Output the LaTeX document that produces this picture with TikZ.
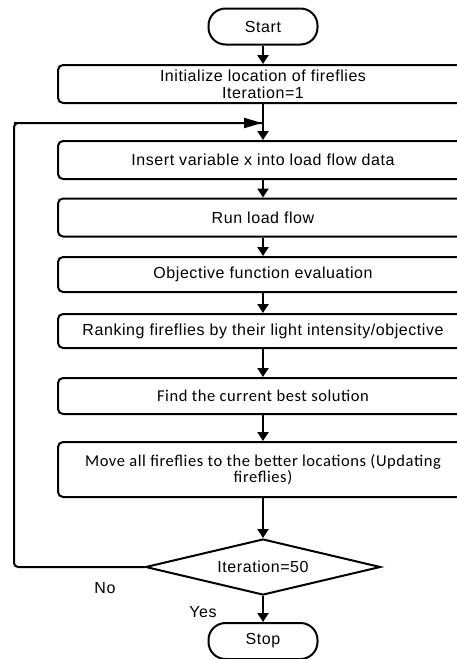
\documentclass[tikz,border=0pt]{standalone}
\usepackage{fontspec}
\setmainfont[LetterSpace=3.5]{Liberation Sans}
\newfontfamily\calib[LetterSpace=3.5]{Carlito}
\usetikzlibrary{arrows.meta,shapes.geometric}
\tikzset{
  procbox/.style={draw, line width=2pt, rounded corners=5pt, minimum width=410pt, inner sep=0pt, align=center, font=\fontsize{16}{17}\selectfont},
  termbox/.style={draw, line width=2pt, rounded corners=17pt, minimum width=109pt, minimum height=36pt, inner sep=0pt, font=\fontsize{16}{18}\selectfont},
  flow/.style={line width=2.6pt, -{Triangle[width=11pt,length=9pt]}},
  loopline/.style={line width=2pt},
  lbl/.style={font=\fontsize{16}{18}\selectfont, inner sep=0pt}
}
\begin{document}
\begin{tikzpicture}[x=1pt,y=-1pt]
\useasboundingbox (0,0) rectangle (457,659);
\clip (0,0) rectangle (457,659);
\node[termbox] (start) at (263,26.5) {Start};
\node[procbox, minimum height=38pt] (init) at (263,84) {Initialize location of fireflies\\Iteration=1};
\node[procbox, minimum height=38pt] (ins) at (263,160) {Insert variable x into load flow data};
\node[procbox, minimum height=38pt] (run) at (263,217.5) {Run load flow};
\node[procbox, minimum height=35pt] (obj) at (263,274.5) {Objective function evaluation};
\node[procbox, minimum height=34pt] (rank) at (263,331) {Ranking fireflies by their light intensity/objective};
\node[procbox, minimum height=36pt, font=\calib\fontsize{16.5}{18}\selectfont] (find) at (263,396) {Find the current best solution};
\node[procbox, minimum height=55pt, font=\calib\fontsize{16.5}{14.5}\selectfont] (move) at (263,469.5) {Move all fireflies to the better locations (Updating\\fireflies)};
\node[draw, line width=2pt, diamond, aspect=4.2, minimum width=235pt, minimum height=56pt, inner sep=0pt, font=\fontsize{16}{18}\selectfont] (dec) at (263,567) {Iteration=50};
\node[termbox] (stop) at (263,641) {Stop};
\node[lbl] (no) at (105,588) {No};
\node[lbl] (yes) at (203,612) {Yes};
\coordinate (join) at (263,123);
\coordinate (lc) at (14,123);
\draw[flow] (start) -- (init);
\draw[line width=2.6pt] (init) -- (join);
\draw[flow] (join) -- (ins);
\draw[flow] (ins) -- (run);
\draw[flow] (run) -- (obj);
\draw[flow] (obj) -- (rank);
\draw[flow] (rank) -- (find);
\draw[flow] (find) -- (move);
\draw[flow] (move) -- (dec);
\draw[flow] (dec) -- (stop);
\draw[loopline, rounded corners=4pt] (dec.west) -| (lc) -- ([xshift=-1pt]join);
\draw[loopline, -{Triangle[width=10pt,length=18pt]}] (lc) -- ([xshift=-1pt]join);
\end{tikzpicture}
\end{document}
